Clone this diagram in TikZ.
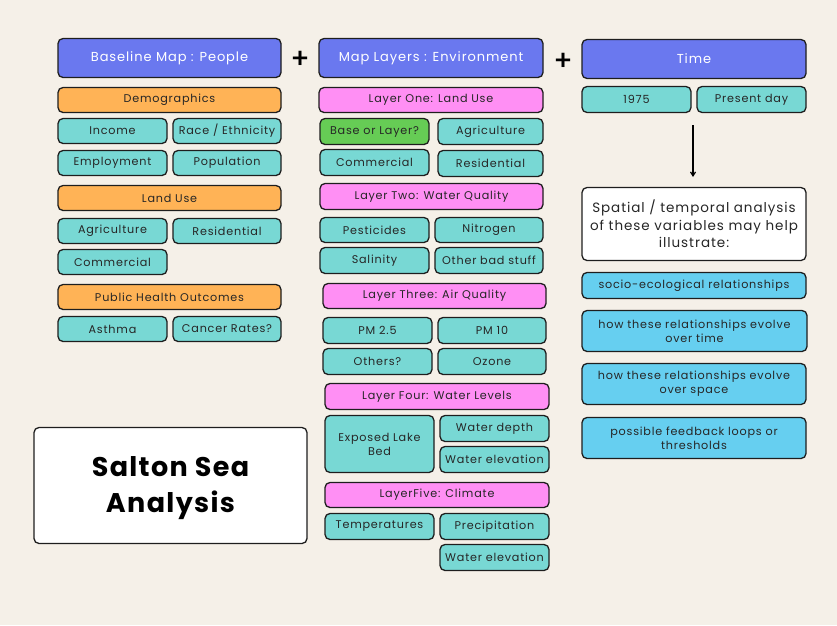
\documentclass[tikz,border=0pt]{standalone}
\usepackage{fontspec}
\setmainfont{Poppins}[LetterSpace=7]
\newfontfamily\titlefont{Poppins}[LetterSpace=5]
\newfontfamily\plusfont{Poppins Medium}
\usetikzlibrary{arrows.meta}
\definecolor{bgc}{HTML}{F5F0E8}
\definecolor{hdr}{HTML}{6A78EF}
\definecolor{tealc}{HTML}{78D8D4}
\definecolor{orgc}{HTML}{FFB356}
\definecolor{pinkc}{HTML}{FF8FF4}
\definecolor{grnc}{HTML}{66CC55}
\definecolor{skyc}{HTML}{66CFF0}
\definecolor{edgec}{HTML}{1E1E1E}
\tikzset{
  basebox/.style={draw=edgec, line width=1.3pt, rounded corners=5pt, inner sep=0pt, outer sep=0pt, align=center, text=black!85, font=\fontsize{11.2}{14}\selectfont},
  hdrbox/.style={basebox, fill=hdr, text=white, font=\fontsize{13}{16}\selectfont},
  tbox/.style={basebox, fill=tealc},
  obox/.style={basebox, fill=orgc},
  pbox/.style={basebox, fill=pinkc},
  gbox/.style={basebox, fill=grnc},
  sbox/.style={basebox, fill=skyc},
  wbox/.style={basebox, fill=white, font=\fontsize{13.5}{17.5}\selectfont},
  titlebox/.style={basebox, fill=white},
  titletxt/.style={inner sep=0pt, align=center, text=black, font=\titlefont\bfseries\fontsize{27}{36}\selectfont},
  plusnode/.style={inner sep=0pt, font=\plusfont\fontsize{28}{28}\selectfont, text=black},
}
\newcommand{\bx}[7]{\node[#2, minimum width={(#5-#3)*1pt}, minimum height={(#6-#4)*1pt}] (#1) at ({(#3+#5)/2},{(#4+#6)/2+0.5}) {#7};}
\begin{document}
\begin{tikzpicture}[x=1pt,y=-1pt]
\fill[bgc] (0,0) rectangle (837,625);
\useasboundingbox (0,0) rectangle (837,625);
% left column
\bx{base}{hdrbox}{58}{38}{281}{77}{Baseline Map : People}
\bx{demo}{obox}{58}{87}{281}{112}{Demographics}
\bx{income}{tbox}{58}{118}{167}{143}{Income}
\bx{race}{tbox}{173}{118}{281}{143}{Race / Ethnicity}
\bx{employ}{tbox}{58}{150}{167}{175}{Employment}
\bx{popul}{tbox}{173}{150}{281}{175}{Population}
\bx{landuse}{obox}{58}{185}{281}{210}{Land Use}
\bx{agriL}{tbox}{58}{218}{167}{243}{Agriculture}
\bx{resL}{tbox}{173}{218}{281}{243}{Residential}
\bx{comL}{tbox}{58}{249}{167}{274}{Commercial}
\bx{pho}{obox}{58}{284}{281}{309}{Public Health Outcomes}
\bx{asthma}{tbox}{58}{316}{167}{341}{Asthma}
\bx{cancer}{tbox}{173}{316}{281}{341}{Cancer Rates?}
% plus signs
\node[plusnode] (plus1) at (300,60) {+};
\node[plusnode] (plus2) at (563,62) {+};
% middle column
\bx{layers}{hdrbox}{319}{38}{543}{77}{Map Layers : Environment}
\bx{l1}{pbox}{319}{87}{543}{112}{Layer One: Land Use}
\bx{baseor}{gbox}{320}{118}{429}{144}{Base or Layer?}
\bx{agriM}{tbox}{438}{118}{543}{144}{Agriculture}
\bx{comM}{tbox}{320}{149}{429}{175}{Commercial}
\bx{resM}{tbox}{438}{150}{543}{176}{Residential}
\bx{l2}{pbox}{320}{183}{543}{209}{Layer Two: Water Quality}
\bx{pest}{tbox}{320}{217}{429}{242}{Pesticides}
\bx{nitro}{tbox}{435}{217}{543}{242}{Nitrogen}
\bx{salin}{tbox}{320}{247}{429}{273}{Salinity}
\bx{other}{tbox}{435}{247}{543}{273}{Other bad stuff}
\bx{l3}{pbox}{323}{283}{546}{308}{Layer Three: Air Quality}
\bx{pm25}{tbox}{323}{317}{432}{343}{PM 2.5}
\bx{pm10}{tbox}{438}{317}{546}{343}{PM 10}
\bx{others}{tbox}{323}{348}{432}{374}{Others?}
\bx{ozone}{tbox}{438}{348}{546}{374}{Ozone}
\bx{l4}{pbox}{325}{383}{549}{409}{Layer Four: Water Levels}
\bx{lakebed}{tbox}{325}{415}{434}{472}{Exposed Lake\\Bed}
\bx{wdepth}{tbox}{440}{415}{549}{441}{Water depth}
\bx{welev}{tbox}{440}{446}{549}{472}{Water elevation}
\bx{l5}{pbox}{325}{482}{549}{507}{LayerFive: Climate}
\bx{temps}{tbox}{325}{513}{434}{539}{Temperatures}
\bx{precip}{tbox}{440}{513}{549}{539}{Precipitation}
\bx{welevb}{tbox}{440}{544}{549}{570}{Water elevation}
% right column
\bx{time}{hdrbox}{582}{39}{806}{78}{Time}
\bx{y1975}{tbox}{582}{86}{691}{112}{1975}
\bx{present}{tbox}{697}{86}{806}{112}{Present day}
\bx{spatial}{wbox}{582}{187}{806}{260}{Spatial / temporal analysis\\of these variables may help\\illustrate:}
\bx{socio}{sbox}{582}{272}{806}{298}{socio-ecological relationships}
\bx{evtime}{sbox}{582}{310}{807}{351}{how these relationships evolve\\over time}
\bx{evspace}{sbox}{582}{363}{806}{404}{how these relationships evolve\\over space}
\bx{feedback}{sbox}{582}{417}{806}{458}{possible feedback loops or\\thresholds}
% arrow
\coordinate (arrS) at (693,125);
\coordinate (arrE) at (693,177);
\draw[line width=1.2pt, -{Straight Barb[length=4pt,width=5pt]}] (arrS) -- (arrE);
% title
\bx{title}{titlebox}{34}{427}{307}{543}{}
\node[titletxt] (titletext) at ([yshift=-3pt]title.center) {Salton Sea\\Analysis};
\end{tikzpicture}
\end{document}
